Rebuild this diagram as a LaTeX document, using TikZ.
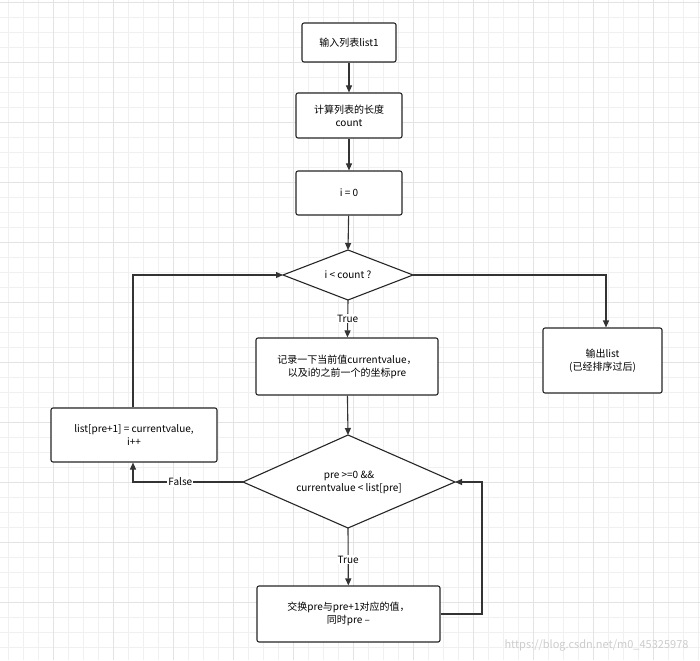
\documentclass[tikz,border=0pt]{standalone}
\usepackage{fontspec}
\setmainfont{Noto Sans CJK SC}
\usetikzlibrary{shapes.geometric,arrows.meta}
\begin{document}
\begin{tikzpicture}[x=1pt,y=-1pt,
  box/.style={draw=black!85,line width=1.1pt,rounded corners=2pt,fill=white,align=center,font=\fontsize{10}{13}\selectfont,inner sep=0},
  dia/.style={draw=black!85,line width=1.1pt,diamond,fill=white,align=center,font=\fontsize{10}{13}\selectfont,inner sep=0},
  conn/.style={draw=black!80,line width=1.1pt,-{Triangle[length=7pt,width=6pt]}},
  lbl/.style={fill=white,font=\fontsize{10}{12}\selectfont,inner sep=1pt}]
\useasboundingbox (0,0) rectangle (700,660);
\fill[white] (0,0) rectangle (700,660);
\foreach \x in {8,23,...,700} \draw[black!6,line width=0.7pt] (\x,0) -- (\x,660);
\foreach \y in {2,17,...,660} \draw[black!6,line width=0.7pt] (0,\y) -- (700,\y);
\foreach \x in {53,113,...,700} \draw[black!11,line width=0.8pt] (\x,0) -- (\x,660);
\foreach \y in {2,62,...,660} \draw[black!11,line width=0.8pt] (0,\y) -- (700,\y);

\node[box,minimum width=94pt,minimum height=39pt] (b1) at (349,42.5) {输入列表list1};
\node[box,minimum width=106pt,minimum height=45pt] (b2) at (349,115.5) {计算列表的长度\\count};
\node[box,minimum width=106pt,minimum height=44pt] (b3) at (349,193) {i = 0};
\node[draw=black!85,line width=1.1pt,fill=white,font=\fontsize{10}{13}\selectfont] (d1) at (348,275) {};
\coordinate (d1t) at (348,250); \coordinate (d1b) at (348,300);
\coordinate (d1l) at (283,275); \coordinate (d1r) at (413,275);
\fill[white,draw=black!85,line width=1.1pt] (d1t) -- (d1r) -- (d1b) -- (d1l) -- cycle;
\node[font=\fontsize{10}{13}\selectfont] (d1txt) at (348,275) {i < count ?};
\node[box,minimum width=119pt,minimum height=65pt] (br) at (602.5,360.5) {输出list\\(已经排序过后)};
\node[box,minimum width=182pt,minimum height=57pt] (b4) at (347,366.5) {记录一下当前值currentvalue，\\以及i的之前一个的坐标pre};
\coordinate (d2t) at (348,435); \coordinate (d2b) at (348,528);
\coordinate (d2l) at (243,482); \coordinate (d2r) at (455,482);
\fill[white,draw=black!85,line width=1.1pt] (d2t) -- (d2r) -- (d2b) -- (d2l) -- cycle;
\node[font=\fontsize{10}{13}\selectfont,align=center] (d2txt) at (349,482) {pre >=0 \&\&\\currentvalue < list[pre]};
\node[box,minimum width=183pt,minimum height=56pt] (b5) at (348.5,614) {交换pre与pre+1对应的值，\\同时pre --};
\node[box,minimum width=166pt,minimum height=54pt] (bl) at (134,435) {list[pre+1] = currentvalue,\\i++};

\draw[conn] (b1) -- (b2);
\draw[conn] (b2) -- (b3);
\draw[conn] (b3) -- (d1t);
\draw[conn] (d1r) -- (606,275) -- (br.north -| 606,0);
\draw[conn] (d1b) -- node[lbl,pos=0.5]{True} (b4);
\draw[conn] (b4) -- (d2t);
\draw[conn] (d2b) -- node[lbl,pos=0.55]{True} (b5);
\draw[conn] (b5.east) -- (482,614) -- (482,482) -- (d2r);
\draw[conn] (d2l) -- node[lbl,pos=0.57]{False} (133,482) -- (bl.south -| 133,0);
\draw[conn] (bl.north -| 133,0) -- (133,275) -- (d1l);
\node[text=black!20,font=\fontsize{11}{13}\selectfont,anchor=east] (wm) at (692,645) {https://blog.csdn.net/m0\_45325978};
\end{tikzpicture}
\end{document}
